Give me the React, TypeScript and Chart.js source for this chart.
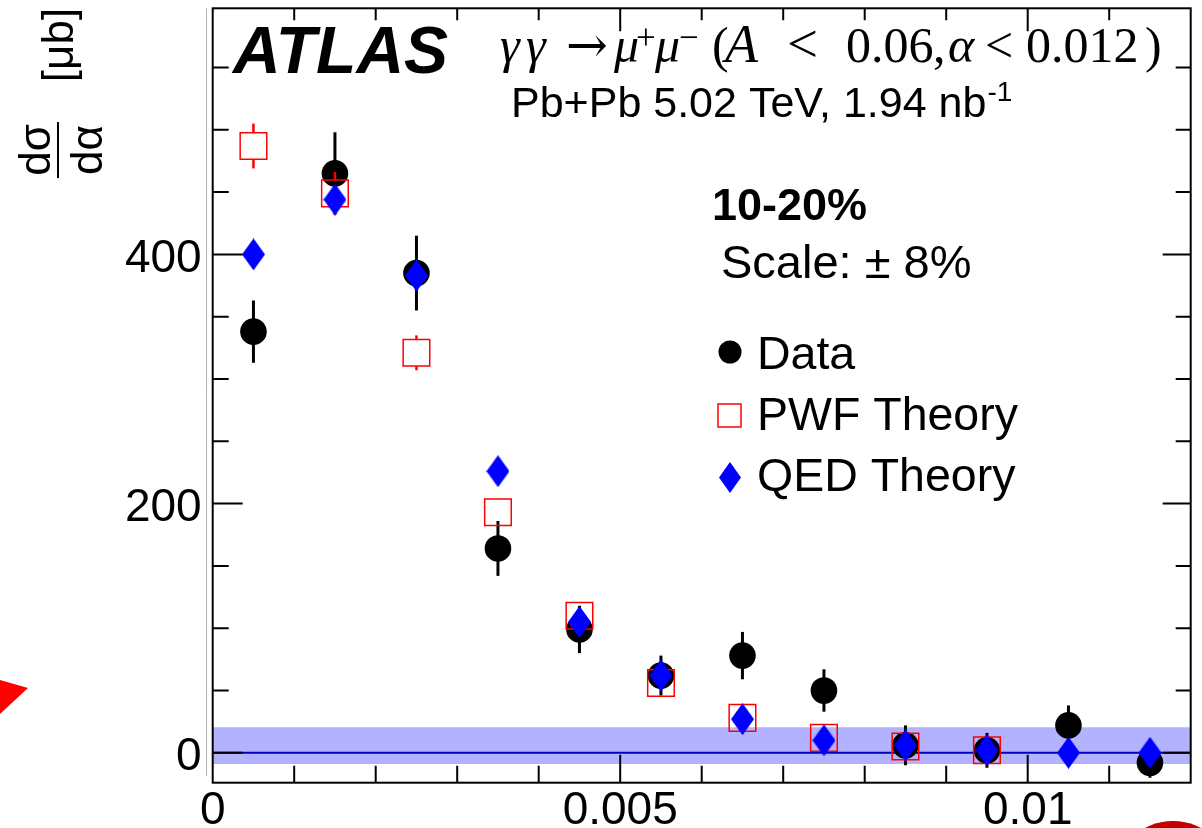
import React, { useEffect, useRef } from "react";
import { Chart, registerables } from "chart.js";

Chart.register(...registerables);

// ---------------- data ----------------
const binCenters = [0.0005, 0.0015, 0.0025, 0.0035, 0.0045, 0.0055, 0.0065, 0.0075, 0.0085, 0.0095, 0.0105, 0.0115];
const dataValues = [338, 465, 385, 164, 99, 62, 78, 50, 6, 2, 22, -8];
const dataErrors = [25, 33, 30, 22, 19, 16, 19, 17, 16, 14, 16, 12];
const pwfCenters = [0.0005, 0.0015, 0.0025, 0.0035, 0.0045, 0.0055, 0.0065, 0.0075, 0.0085, 0.0095];
const pwfValues = [487, 449, 321, 193, 110, 56, 28, 12, 5, 2];
const pwfErrors = [18, 17, 14, 11, 8, 5, 3, 2, 1, 1];
const qedValues = [400, 444, 383, 226, 105, 62, 27, 10, 6, 2, 0, 0];

const xTickValues = [0, 0.005, 0.01];
const xTickLabels = ["0", "0.005", "0.01"];
const yTickValues = [0, 200, 400];
const yTickLabels = ["0", "200", "400"];
const xMinorStep = 0.001;
const yMinorStep = 50;

const bandLow = -9;
const bandHigh = 20.5;

const X_MIN = 0;
const X_MAX = 0.012;
const Y_MIN = -24;
const Y_MAX = 597.5;

const SANS = '"Liberation Sans", Arial, sans-serif';
const SERIF = '"Liberation Serif", "Times New Roman", serif';
const MATH = '"DejaVu Serif", serif';

// process label pieces (text, italic, superscript, math-symbol font, size factor, x position)
type Part = { t: string; it?: boolean; sup?: boolean; m?: boolean; k?: number; x: number };
const processParts: Part[] = [
  { t: "γ", it: true, x: 500 },
  { t: "γ", it: true, x: 526 },
  { t: "→", m: true, x: 566 },
  { t: "μ", it: true, x: 614 },
  { t: "+", sup: true, x: 636 },
  { t: "μ", it: true, x: 655 },
  { t: "−", sup: true, x: 679 },
  { t: "(", x: 712 },
  { t: "A", it: true, k: 1.08, x: 725 },
  { t: "<", k: 1.1, x: 787 },
  { t: "0.06", x: 846 },
  { t: ",", x: 933 },
  { t: "α", it: true, x: 948 },
  { t: "<", k: 1.0, x: 985 },
  { t: "0.012", x: 1026 },
  { t: ")", x: 1145 },
];

function makeDiamond(w: number, h: number, color: string) {
  const c = document.createElement("canvas");
  c.width = w;
  c.height = h;
  const g = c.getContext("2d")!;
  g.fillStyle = color;
  g.beginPath();
  g.moveTo(w / 2, 0);
  g.lineTo(w, h / 2);
  g.lineTo(w / 2, h);
  g.lineTo(0, h / 2);
  g.closePath();
  g.fill();
  return c;
}

function drawParts(ctx: CanvasRenderingContext2D, parts: Part[], baseline: number, size: number) {
  ctx.textAlign = "left";
  ctx.textBaseline = "alphabetic";
  for (const p of parts) {
    const s = (p.sup ? size * 0.7 : size) * (p.k || 1);
    ctx.font = `${p.it ? "italic " : ""}${s}px ${p.m ? MATH : SERIF}`;
    const y = p.sup ? baseline - size * 0.27 : baseline;
    ctx.fillText(p.t, p.x, y);
  }
}

const decorPlugin = {
  id: "atlasDecor",
  beforeDatasetsDraw(chart: any) {
    const { ctx, chartArea: a, scales } = chart;
    const y = scales.y;
    ctx.save();
    ctx.fillStyle = "rgba(0,0,255,0.3)";
    const yt = y.getPixelForValue(bandHigh);
    const yb = y.getPixelForValue(bandLow);
    ctx.fillRect(a.left, yt, a.right - a.left, yb - yt);
    ctx.strokeStyle = "#0000c0";
    ctx.lineWidth = 2;
    ctx.beginPath();
    const y0 = y.getPixelForValue(0);
    ctx.moveTo(a.left, y0);
    ctx.lineTo(a.right, y0);
    ctx.stroke();
    ctx.restore();
  },
  beforeDatasetDraw(chart: any, args: any) {
    const { ctx, scales } = chart;
    const xs = scales.x;
    const ys = scales.y;
    ctx.save();
    if (args.index === 0) {
      ctx.strokeStyle = "#000";
      ctx.lineWidth = 3;
      binCenters.forEach((xv, i) => {
        const px = xs.getPixelForValue(xv);
        ctx.beginPath();
        ctx.moveTo(px, ys.getPixelForValue(dataValues[i] + dataErrors[i]));
        ctx.lineTo(px, ys.getPixelForValue(dataValues[i] - dataErrors[i]));
        ctx.stroke();
      });
    } else if (args.index === 1) {
      ctx.strokeStyle = "#ff0000";
      ctx.lineWidth = 2.5;
      const half = 13.5;
      pwfCenters.forEach((xv, i) => {
        const px = xs.getPixelForValue(xv);
        const pc = ys.getPixelForValue(pwfValues[i]);
        const pt = ys.getPixelForValue(pwfValues[i] + pwfErrors[i]);
        const pb = ys.getPixelForValue(pwfValues[i] - pwfErrors[i]);
        if (pc - pt > half) {
          ctx.beginPath();
          ctx.moveTo(px, pt);
          ctx.lineTo(px, pc - half);
          ctx.stroke();
        }
        if (pb - pc > half) {
          ctx.beginPath();
          ctx.moveTo(px, pc + half);
          ctx.lineTo(px, pb);
          ctx.stroke();
        }
      });
    }
    ctx.restore();
  },
  afterDatasetsDraw(chart: any) {
    const { ctx, chartArea: a, scales } = chart;
    const xs = scales.x;
    const ys = scales.y;
    ctx.save();
    ctx.strokeStyle = "#000";
    ctx.lineWidth = 2;
    ctx.beginPath();
    for (let i = 0; i * yMinorStep < Y_MAX; i++) {
      const v = i * yMinorStep;
      const py = ys.getPixelForValue(v);
      const major = yTickValues.includes(v);
      ctx.moveTo(a.left, py);
      ctx.lineTo(a.left + (major ? 30 : 16), py);
      ctx.moveTo(a.right, py);
      ctx.lineTo(a.right - (major ? 28 : 15), py);
    }
    for (let i = 1; i < 12; i++) {
      const v = i * xMinorStep;
      const px = xs.getPixelForValue(v);
      const major = i % 5 === 0;
      ctx.moveTo(px, a.bottom);
      ctx.lineTo(px, a.bottom - (major ? 28 : 17));
      ctx.moveTo(px, a.top);
      ctx.lineTo(px, a.top + (major ? 23 : 12));
    }
    ctx.stroke();
    ctx.strokeRect(a.left, a.top, a.right - a.left, a.bottom - a.top);
    ctx.restore();
  },
  afterDraw(chart: any) {
    const { ctx, chartArea: a } = chart;
    ctx.save();
    // grey line left of the frame
    ctx.strokeStyle = "#b0b0b0";
    ctx.lineWidth = 1;
    ctx.beginPath();
    ctx.moveTo(206.5, a.top);
    ctx.lineTo(206.5, 776);
    ctx.stroke();

    ctx.fillStyle = "#000";
    ctx.textAlign = "left";
    ctx.textBaseline = "alphabetic";
    ctx.font = `italic bold 66px ${SANS}`;
    ctx.fillText("ATLAS", 233, 73);

    drawParts(ctx, processParts, 62, 50);

    ctx.font = `43px ${SANS}`;
    const lumi = "Pb+Pb 5.02 TeV, 1.94 nb";
    ctx.fillText(lumi, 511, 117);
    const lw = ctx.measureText(lumi).width;
    ctx.font = `28px ${SANS}`;
    ctx.fillText("-1", 511 + lw + 1, 101);

    ctx.font = `bold 45px ${SANS}`;
    ctx.fillText("10-20%", 712, 220);
    ctx.font = `47px ${SANS}`;
    ctx.fillText("Scale: ± 8%", 721, 278);

    // legend
    ctx.font = `46.5px ${SANS}`;
    ctx.beginPath();
    ctx.arc(730, 352, 11.5, 0, Math.PI * 2);
    ctx.fill();
    ctx.fillText("Data", 757, 369);
    ctx.strokeStyle = "#ff0000";
    ctx.lineWidth = 1.5;
    ctx.strokeRect(718, 404, 23, 23);
    ctx.fillText("PWF Theory", 757, 430);
    ctx.fillStyle = "#0000ff";
    ctx.beginPath();
    ctx.moveTo(730, 462);
    ctx.lineTo(741, 477.5);
    ctx.lineTo(730, 493);
    ctx.lineTo(719, 477.5);
    ctx.closePath();
    ctx.fill();
    ctx.fillStyle = "#000";
    ctx.fillText("QED Theory", 757, 491);

    // y-axis title
    ctx.save();
    ctx.translate(58, 150);
    ctx.rotate(-Math.PI / 2);
    ctx.font = `44px ${SANS}`;
    ctx.textAlign = "center";
    ctx.fillText("dσ", 0, -8);
    ctx.fillText("dα", 0, 44);
    ctx.fillRect(-28, -1, 56, 2);
    ctx.restore();
    ctx.save();
    ctx.translate(73, 45);
    ctx.rotate(-Math.PI / 2);
    ctx.font = `44px ${SANS}`;
    ctx.textAlign = "center";
    ctx.fillText("[μb]", 0, 0);
    ctx.restore();

    // stray decorations from the source page
    ctx.fillStyle = "#ff0000";
    ctx.beginPath();
    ctx.moveTo(0, 680);
    ctx.lineTo(28, 688);
    ctx.lineTo(0, 714);
    ctx.closePath();
    ctx.fill();
    ctx.fillStyle = "#c40000";
    ctx.beginPath();
    ctx.arc(1173, 882, 61, 0, Math.PI * 2);
    ctx.fill();
    ctx.restore();
  },
};

export default function App() {
  const ref = useRef<HTMLCanvasElement>(null);
  useEffect(() => {
    document.body.style.margin = "0";
    const canvas = ref.current!;
    const diamond = makeDiamond(23, 32, "#0000ff");
    const chart = new Chart(canvas, {
      type: "scatter",
      data: {
        datasets: [
          {
            label: "Data",
            data: binCenters.map((x, i) => ({ x, y: dataValues[i] })),
            pointStyle: "circle",
            pointRadius: 13.3,
            pointHoverRadius: 13.3,
            backgroundColor: "#000",
            borderColor: "#000",
            borderWidth: 0,
            order: 2,
          },
          {
            label: "PWF Theory",
            data: pwfCenters.map((x, i) => ({ x, y: pwfValues[i] })),
            pointStyle: "rect",
            pointRadius: 18.8,
            pointHoverRadius: 18.8,
            backgroundColor: "rgba(0,0,0,0)",
            borderColor: "#ff0000",
            borderWidth: 1.5,
            order: 1,
          },
          {
            label: "QED Theory",
            data: binCenters.map((x, i) => ({ x, y: qedValues[i] })),
            pointStyle: diamond as any,
            pointRadius: 16,
            pointHoverRadius: 16,
            backgroundColor: "#0000ff",
            borderWidth: 0,
            order: 0,
          },
        ],
      },
      options: {
        responsive: false,
        animation: false,
        events: [],
        layout: { autoPadding: false, padding: { left: 0, right: 11.3, top: 8.3, bottom: 0 } },
        plugins: { legend: { display: false }, tooltip: { enabled: false } },
        scales: {
          x: {
            type: "linear",
            position: "bottom",
            min: X_MIN,
            max: X_MAX,
            grid: { display: false, drawTicks: false },
            border: { display: false },
            ticks: {
              color: "#000",
              font: { family: SANS, size: 46, lineHeight: 1.2 },
              padding: 1,
              maxRotation: 0,
              minRotation: 0,
              autoSkip: false,
              callback: (_v: any, i: number) => xTickLabels[i],
            },
            afterBuildTicks: (s: any) => {
              s.ticks = xTickValues.map((v) => ({ value: v }));
            },
            afterFit: (s: any) => {
              s.height = 45.3;
              s.paddingLeft = 0;
              s.paddingRight = 0;
            },
          },
          y: {
            type: "linear",
            position: "left",
            min: Y_MIN,
            max: Y_MAX,
            grid: { display: false, drawTicks: false },
            border: { display: false },
            ticks: {
              color: "#000",
              font: { family: SANS, size: 46, lineHeight: "9px" },
              padding: 11,
              autoSkip: false,
              callback: (_v: any, i: number) => ["", yTickLabels[i]],
            },
            afterBuildTicks: (s: any) => {
              s.ticks = yTickValues.map((v) => ({ value: v }));
            },
            afterFit: (s: any) => {
              s.width = 212.7;
              s.paddingTop = 0;
              s.paddingBottom = 0;
            },
          },
        },
      },
      plugins: [decorPlugin],
    });
    return () => chart.destroy();
  }, []);
  return <canvas ref={ref} width={1202} height={828} style={{ display: "block" }} />;
}
